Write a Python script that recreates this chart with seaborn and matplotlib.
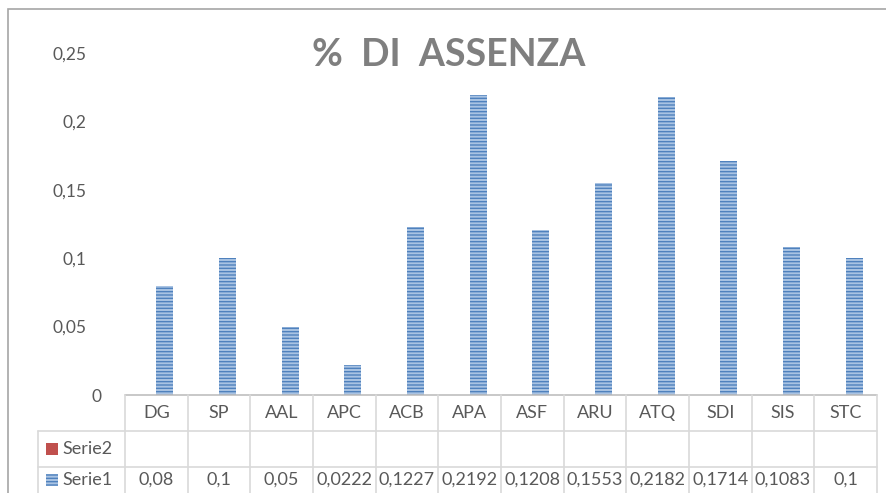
import numpy as np
import pandas as pd
import matplotlib
matplotlib.use("Agg")
import matplotlib.pyplot as plt
import seaborn as sns
from matplotlib.patches import Rectangle

# data
categories = ["DG", "SP", "AAL", "APC", "ACB", "APA", "ASF", "ARU", "ATQ", "SDI", "SIS", "STC"]
serie1 = [0.08, 0.1, 0.05, 0.0222, 0.1227, 0.2192, 0.1208, 0.1553, 0.2182, 0.1714, 0.1083, 0.1]
serie1_labels = ["0,08", "0,1", "0,05", "0,0222", "0,1227", "0,2192", "0,1208", "0,1553", "0,2182", "0,1714", "0,1083", "0,1"]
serie2 = [np.nan] * len(categories)
yticks = [0, 0.05, 0.1, 0.15, 0.2, 0.25]
ytick_labels = ["0", "0,05", "0,1", "0,15", "0,2", "0,25"]

sns.set_style("white")
plt.rcParams["font.family"] = ["Lato", "DejaVu Sans"]

txt = "#595959"
grid = "#D9D9D9"
blue = "#4F81BD"
light = "#A9C3E3"
red = "#C0504D"

df = pd.DataFrame({
    "cat": categories * 2,
    "val": serie2 + serie1,
    "serie": ["Serie2"] * len(categories) + ["Serie1"] * len(categories),
})

fig = plt.figure(figsize=(8.86, 4.93), dpi=100)
W, H = 886, 493
ax = fig.add_axes([125 / W, 1 - 395 / H, (877 - 125) / W, (395 - 53) / H])

sns.barplot(data=df, x="cat", y="val", hue="serie", hue_order=["Serie2", "Serie1"],
            order=categories, width=0.54, legend=False, errorbar=None, ax=ax,
            palette={"Serie2": red, "Serie1": light})

for p in ax.patches:
    p.set_facecolor(light)
    p.set_edgecolor(blue)
    p.set_hatch("-----")
    p.set_linewidth(0)

ax.set_ylim(0, 0.25)
ax.set_xlim(-0.5, len(categories) - 0.5)
ax.set_yticks(yticks)
ax.set_yticklabels(ytick_labels, color=txt, fontsize=12.5)
ax.tick_params(axis="y", length=0, pad=28)
ax.yaxis.get_major_ticks()[0].set_pad(17)
ax.set_xticks([])
ax.set_xlabel("")
ax.set_ylabel("")
for s in ax.spines.values():
    s.set_visible(False)

# data table under the plot
tr = ax.get_xaxis_transform()
rh = 36 / (395 - 53)
n = len(categories)
cw = (877 - 125) / n  # pixels per category
left = -0.5 - 87 / cw
kw = dict(transform=tr, clip_on=False, color=grid, lw=1.2)
ax.plot([-0.5, n - 0.5], [0, 0], color="#BFBFBF", lw=1.2, transform=tr, clip_on=False)
ax.plot([left, n - 0.5], [-rh, -rh], **kw)
ax.plot([left, n - 0.5], [-2 * rh, -2 * rh], **kw)
for i in range(n + 1):
    ax.plot([i - 0.5, i - 0.5], [0, -3 * rh], **kw)
ax.plot([left, left], [-rh, -3 * rh], **kw)

for i, c in enumerate(categories):
    ax.text(i, -0.5 * rh, c, transform=tr, ha="center", va="center", color=txt, fontsize=13)
    ax.text(i, -2.35 * rh, serie1_labels[i], transform=tr, ha="center", va="center", color=txt, fontsize=13)

# row labels with legend keys
px = 1 / (395 - 53)
ax.add_patch(Rectangle((left + 8 / cw, -1.5 * rh - 6 * px), 12 / cw, 12 * px, transform=tr,
                       clip_on=False, facecolor=red, edgecolor="none"))
ax.add_patch(Rectangle((left + 8 / cw, -2.35 * rh - 6 * px), 12 / cw, 12 * px, transform=tr,
                       clip_on=False, facecolor=light, edgecolor=blue, hatch="-----", lw=0))
ax.text(left + 24 / cw, -1.5 * rh, "Serie2", transform=tr, ha="left", va="center", color=txt, fontsize=13)
ax.text(left + 24 / cw, -2.35 * rh, "Serie1", transform=tr, ha="left", va="center", color=txt, fontsize=13)

# title
fig.text(449 / W, 1 - 55 / H, "%  DI  ASSENZA", ha="center", va="center",
         fontsize=27, fontweight="bold", color="#7F7F7F")

# chart frame
fig.patches.append(Rectangle((8 / W, -0.1), 1.2, 1 - 9 / H + 0.1, transform=fig.transFigure,
                             fill=False, edgecolor="#A6A6A6", lw=1.2))

fig.savefig("out.png", dpi=100)
